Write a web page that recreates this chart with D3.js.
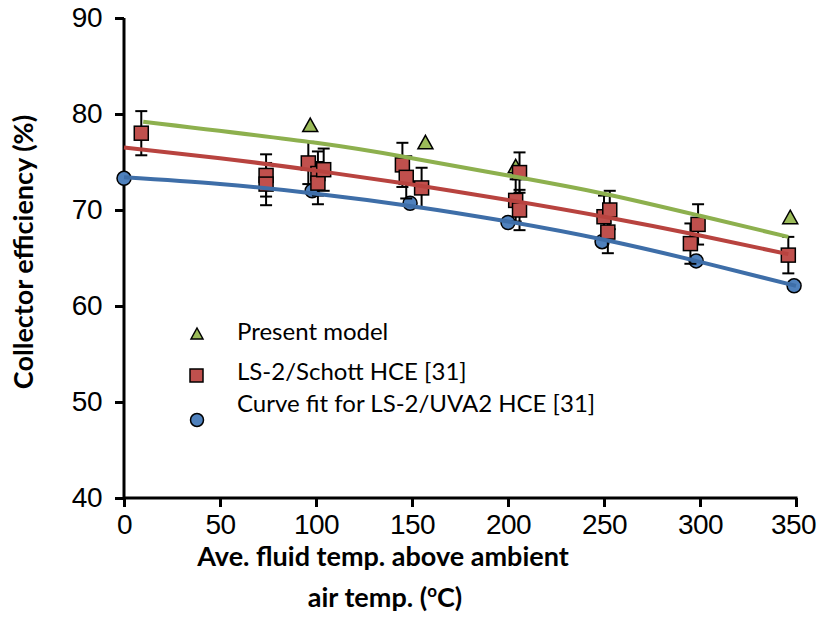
<!DOCTYPE html>
<html>
<head>
<meta charset="utf-8">
<script src="https://cdn.jsdelivr.net/npm/d3@7"></script>
<style>
    body { margin: 0; background: #fff; }
    svg { display: block; font-family: Lato, "Open Sans", sans-serif; }
    .tick text { font-size: 28px; fill: #000; letter-spacing: -0.5px; }
    .title { font-weight: bold; font-size: 27px; fill: #000; }
    .legend { font-size: 24px; fill: #000; }
</style>
</head>
<body>
<div id="chart"></div>
<script>
    // values
    const presentX = [97, 157, 204, 347];
    const presentY = [78.8, 77.0, 74.5, 69.2];

    const schottX = [9, 74, 74, 96, 101, 101, 104, 145, 147, 155, 204, 206, 206, 250, 253, 252, 295, 299, 346];
    const schottY = [78.0, 73.6, 72.7, 74.9, 73.8, 72.8, 74.2, 74.7, 73.4, 72.3, 71.0, 73.9, 70.0, 69.3, 70.0, 67.7, 66.5, 68.5, 65.3];
    const schottErr = [2.3, 2.2, 2.2, 2.2, 2.3, 2.2, 2.2, 2.3, 2.2, 2.1, 2.2, 2.1, 2.1, 2.2, 2.0, 2.2, 2.1, 2.1, 1.9];

    const uvaX = [0, 98, 149, 200, 249, 298, 349];
    const uvaY = [73.3, 72.0, 70.7, 68.7, 66.7, 64.7, 62.1];

    // trend lines
    const greenFitX = [10, 100, 150, 200, 250, 300, 346];
    const greenFitY = [79.2, 77.0, 75.4, 73.6, 71.7, 69.4, 67.2];
    const redFitX = [0, 50, 100, 150, 200, 250, 300, 346];
    const redFitY = [76.5, 75.4, 74.1, 72.65, 71.05, 69.3, 67.35, 65.4];
    const blueFitX = [0, 50, 100, 150, 200, 250, 300, 350];
    const blueFitY = [73.4, 72.7, 71.7, 70.4, 68.8, 66.9, 64.6, 62.1];

    const xTicks = [0, 50, 100, 150, 200, 250, 300, 350];
    const yTicks = [40, 50, 60, 70, 80, 90];

    const legendLabels = ["Present model", "LS-2/Schott HCE [31]", "Curve fit for LS-2/UVA2 HCE [31]"];

    const green = "#9BBB59", red = "#C0504D", blue = "#4F81BD";

    const width = 818, height = 631;

    let svg = d3.select("#chart")
        .append("svg")
        .attr("width", width)
        .attr("height", height);

    let x = d3.scaleLinear().domain([0, 350]).range([124, 796]);
    let y = d3.scaleLinear().domain([40, 90]).range([498, 18]);

    // axes
    let xAxis = svg.append("g")
        .attr("transform", `translate(0, ${y(40)})`)
        .call(d3.axisBottom(x).tickValues(xTicks).tickSize(9).tickSizeOuter(0).tickPadding(7));
    let yAxis = svg.append("g")
        .attr("transform", `translate(${x(0)}, 0)`)
        .call(d3.axisLeft(y).tickValues(yTicks).tickSize(9).tickSizeOuter(0).tickPadding(13));

    svg.selectAll(".domain, .tick line")
        .attr("stroke", "#000")
        .attr("stroke-width", 3);
    xAxis.select(".domain").attr("d", `M${x(0)},0H${x(350) + 1.5}`);
    yAxis.select(".domain").attr("d", `M0,${y(40) + 1.5}V${y(90)}`);
    // keep the last label inside the page
    xAxis.selectAll(".tick text").filter(d => d === 350).attr("dx", -3);

    const pts = (xs, ys) => xs.map((v, i) => [v, ys[i]]);

    // present model triangles
    svg.selectAll(".tri")
        .data(pts(presentX, presentY))
        .join("path")
        .attr("class", "tri")
        .attr("transform", d => `translate(${x(d[0])}, ${y(d[1])})`)
        .attr("d", "M0,-7.5L7.5,6L-7.5,6Z")
        .attr("fill", green)
        .attr("stroke", "#000")
        .attr("stroke-width", 1.5);

    // UVA2 circles
    svg.selectAll(".circ")
        .data(pts(uvaX, uvaY))
        .join("circle")
        .attr("class", "circ")
        .attr("cx", d => x(d[0]))
        .attr("cy", d => y(d[1]))
        .attr("r", 7)
        .attr("fill", blue)
        .attr("stroke", "#000")
        .attr("stroke-width", 1.5);

    // error bars for Schott data
    let schott = schottX.map((v, i) => ({x: v, y: schottY[i], e: schottErr[i]}));
    let bars = svg.selectAll(".err")
        .data(schott)
        .join("g")
        .attr("class", "err")
        .attr("stroke", "#000")
        .attr("stroke-width", 2);
    bars.append("line")
        .attr("x1", d => x(d.x)).attr("x2", d => x(d.x))
        .attr("y1", d => y(d.y - d.e)).attr("y2", d => y(d.y + d.e));
    bars.append("line")
        .attr("x1", d => x(d.x) - 6).attr("x2", d => x(d.x) + 6)
        .attr("y1", d => y(d.y + d.e)).attr("y2", d => y(d.y + d.e));
    bars.append("line")
        .attr("x1", d => x(d.x) - 6).attr("x2", d => x(d.x) + 6)
        .attr("y1", d => y(d.y - d.e)).attr("y2", d => y(d.y - d.e));

    svg.selectAll(".sq")
        .data(schott)
        .join("rect")
        .attr("class", "sq")
        .attr("x", d => x(d.x) - 7)
        .attr("y", d => y(d.y) - 7)
        .attr("width", 14)
        .attr("height", 14)
        .attr("fill", red)
        .attr("stroke", "#000")
        .attr("stroke-width", 1.5);

    // trend lines on top
    let line = d3.line()
        .x(d => x(d[0]))
        .y(d => y(d[1]))
        .curve(d3.curveNatural);

    [[greenFitX, greenFitY, "#8DB04E"], [redFitX, redFitY, "#B8433F"], [blueFitX, blueFitY, "#3E6EA8"]]
        .forEach(([xs, ys, c]) => {
            svg.append("path")
                .datum(pts(xs, ys))
                .attr("d", line)
                .attr("fill", "none")
                .attr("stroke", c)
                .attr("stroke-width", 4);
        });

    // legend
    svg.append("path")
        .attr("transform", "translate(197, 334)")
        .attr("d", "M0,-6L6,5L-6,5Z")
        .attr("fill", green)
        .attr("stroke", "#000")
        .attr("stroke-width", 1.5);
    svg.append("rect")
        .attr("x", 190).attr("y", 369)
        .attr("width", 13).attr("height", 13)
        .attr("fill", red)
        .attr("stroke", "#000")
        .attr("stroke-width", 1.5);
    svg.append("circle")
        .attr("cx", 197).attr("cy", 420)
        .attr("r", 6.5)
        .attr("fill", blue)
        .attr("stroke", "#000")
        .attr("stroke-width", 1.5);

    svg.selectAll(".legend")
        .data(legendLabels)
        .join("text")
        .attr("class", "legend")
        .attr("x", 237)
        .attr("y", (d, i) => [340, 380, 412][i])
        .text(d => d);

    // axis titles
    svg.append("text")
        .attr("class", "title")
        .attr("font-size", "28px")
        .attr("transform", "translate(33, 252) rotate(-90)")
        .attr("text-anchor", "middle")
        .text("Collector efficiency (%)");

    svg.append("text")
        .attr("class", "title")
        .attr("x", 383)
        .attr("y", 566)
        .attr("text-anchor", "middle")
        .text("Ave. fluid temp. above ambient");

    let t2 = svg.append("text")
        .attr("class", "title")
        .attr("x", 385)
        .attr("y", 607)
        .attr("text-anchor", "middle");
    t2.append("tspan").text("air temp. (");
    t2.append("tspan").attr("font-size", "17px").attr("dy", -10).text("o");
    t2.append("tspan").attr("dy", 10).text("C)");
</script>
</body>
</html>
